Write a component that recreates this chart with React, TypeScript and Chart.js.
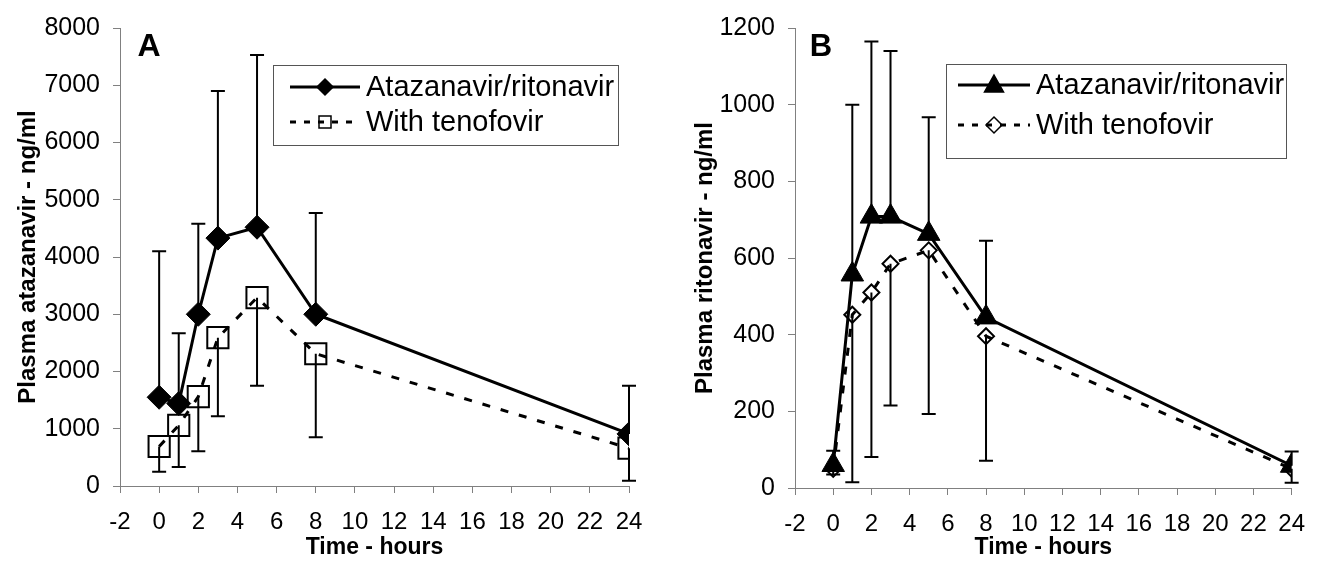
import React, { useEffect, useRef } from "react";
import { Chart, registerables } from "chart.js";

Chart.register(...registerables);

// ---------- data ----------
const timeHours = [0, 1, 2, 3, 5, 8, 24];
const xTickMin = -2;
const xTickMax = 24;

// Panel A: plasma atazanavir (ng/ml)
const atvRtvA = [1550, 1440, 3000, 4330, 4520, 3000, 910];
const atvRtvAUpper = [4100, 2670, 4580, 6900, 7530, 4770, 1750];
const tdfA = [690, 1060, 1560, 2590, 3290, 2310, 660];
const tdfALower = [250, 330, 605, 1220, 1750, 850, 90];

// Panel B: plasma ritonavir (ng/ml)
const atvRtvB = [60, 557, 708, 708, 663, 445, 58];
const atvRtvBUpper = [97, 1000, 1165, 1140, 967, 645, 95];
const tdfB = [50, 452, 510, 585, 620, 396, 50];
const tdfBLower = [35, 15, 81, 215, 193, 71, 14];

const seriesNames = ["Atazanavir/ritonavir", "With tenofovir"];

const FONT = "'Liberation Sans', Arial, Helvetica, sans-serif";

// ---------- plugin: error bars, panel letter, legend ----------
function drawMarker(ctx: CanvasRenderingContext2D, style: string, x: number, y: number, r: number, filled: boolean) {
  ctx.save();
  ctx.beginPath();
  if (style === "rectRot") {
    ctx.moveTo(x, y - r);
    ctx.lineTo(x + r, y);
    ctx.lineTo(x, y + r);
    ctx.lineTo(x - r, y);
  } else if (style === "rect") {
    ctx.rect(x - r, y - r, 2 * r, 2 * r);
  } else if (style === "triangle") {
    ctx.moveTo(x, y - r);
    ctx.lineTo(x + r * 0.95, y + r * 0.7);
    ctx.lineTo(x - r * 0.95, y + r * 0.7);
  }
  ctx.closePath();
  ctx.lineWidth = 1.5;
  ctx.strokeStyle = "#000";
  if (filled) {
    ctx.fillStyle = "#000";
    ctx.fill();
  }
  ctx.stroke();
  ctx.restore();
}

const panelExtras = {
  id: "panelExtras",
  beforeDatasetsDraw(chart: any, _args: any, opts: any) {
    const ctx = chart.ctx as CanvasRenderingContext2D;
    const xs = chart.scales.x;
    const ys = chart.scales.y;
    ctx.save();
    ctx.strokeStyle = "#000";
    ctx.lineWidth = 2;
    (opts.errorBars || []).forEach((eb: any) => {
      eb.values.forEach((v: number, i: number) => {
        const px = xs.getPixelForValue(timeHours[i]);
        const py0 = ys.getPixelForValue(v);
        const py1 = ys.getPixelForValue(eb.ends[i]);
        ctx.beginPath();
        ctx.moveTo(px, py0);
        ctx.lineTo(px, py1);
        ctx.moveTo(px - 7, py1);
        ctx.lineTo(px + 7, py1);
        ctx.stroke();
      });
    });
    ctx.restore();
  },
  afterDraw(chart: any, _args: any, opts: any) {
    const ctx = chart.ctx as CanvasRenderingContext2D;
    ctx.save();
    // panel letter
    ctx.fillStyle = "#000";
    ctx.font = `bold ${opts.letterSize}px ${FONT}`;
    ctx.textAlign = "center";
    ctx.textBaseline = "middle";
    ctx.fillText(opts.letter, opts.letterX, opts.letterY);

    // legend
    const lg = opts.legend;
    ctx.strokeStyle = "#555";
    ctx.lineWidth = 1;
    ctx.strokeRect(lg.left + 0.5, lg.top + 0.5, lg.right - lg.left, lg.bottom - lg.top);
    lg.items.forEach((it: any) => {
      ctx.save();
      ctx.strokeStyle = "#000";
      ctx.lineWidth = 3;
      ctx.setLineDash(it.dash || []);
      ctx.beginPath();
      ctx.moveTo(lg.lineX0, it.y);
      ctx.lineTo(lg.lineX1, it.y);
      ctx.stroke();
      ctx.restore();
      drawMarker(ctx, it.marker, (lg.lineX0 + lg.lineX1) / 2, it.y, it.r, it.filled);
      ctx.fillStyle = "#000";
      ctx.font = `${lg.fontSize}px ${FONT}`;
      ctx.textAlign = "left";
      ctx.textBaseline = "middle";
      ctx.fillText(it.text, lg.textX, it.y + 1);
    });
    ctx.restore();
  },
};

function makeConfig(p: any) {
  const xTickFont = { family: FONT, size: 24 };
  const yTickFont = { family: FONT, size: 25 };
  const titleFont = { family: FONT, size: 23, weight: "bold" as const };
  return {
    type: "line" as const,
    data: {
      datasets: [
        {
          label: seriesNames[0],
          data: timeHours.map((t, i) => ({ x: t, y: p.s1[i] })),
          borderColor: "#000",
          borderWidth: 3,
          pointStyle: p.m1.style,
          pointRadius: p.m1.r,
          pointBackgroundColor: "#000",
          pointBorderColor: "#000",
          pointBorderWidth: 1,
          fill: false,
          tension: 0,
        },
        {
          label: seriesNames[1],
          data: timeHours.map((t, i) => ({ x: t, y: p.s2[i] })),
          borderColor: "#000",
          borderWidth: 3,
          borderDash: [8, 11],
          pointStyle: p.m2.style,
          pointRadius: p.m2.r,
          pointBackgroundColor: "rgba(0,0,0,0)",
          pointBorderColor: "#000",
          pointBorderWidth: 2,
          fill: false,
          tension: 0,
        },
      ],
    },
    options: {
      animation: false as const,
      responsive: false,
      events: [],
      layout: { padding: { left: 0, top: p.top, right: p.right, bottom: 0 } },
      plugins: {
        legend: { display: false },
        tooltip: { enabled: false },
        panelExtras: p.extras,
      },
      scales: {
        x: {
          type: "linear" as const,
          min: xTickMin,
          max: xTickMax,
          ticks: { stepSize: 2, color: "#000", font: xTickFont, padding: 15, callback: (v: any) => String(v) },
          grid: { drawOnChartArea: false, drawTicks: true, tickLength: 7, color: "#808080" },
          border: { display: true, color: "#808080", width: 1 },
          title: { display: true, text: "Time - hours", color: "#000", font: titleFont, padding: { top: 0, bottom: 0 } },
          afterFit: (s: any) => { s.height = p.xHeight; },
        },
        y: {
          type: "linear" as const,
          min: 0,
          max: p.yMax,
          ticks: { stepSize: p.yStep, color: "#000", font: yTickFont, padding: 13, callback: (v: any) => String(v) },
          grid: { drawOnChartArea: false, drawTicks: true, tickLength: 7, color: "#808080" },
          border: { display: true, color: "#808080", width: 1 },
          title: { display: true, text: p.yTitle, color: "#000", font: { family: FONT, size: 24, weight: "bold" as const }, padding: { top: p.yTitlePad, bottom: 0 } },
          afterFit: (s: any) => { s.width = p.yWidth; },
        },
      },
    },
    plugins: [panelExtras],
  };
}

const panelA = {
  s1: atvRtvA,
  s2: tdfA,
  m1: { style: "rectRot", r: 12 },
  m2: { style: "rect", r: 15 },
  top: 26,
  right: 31,
  xHeight: 75,
  yWidth: 120,
  yMax: 8000,
  yStep: 1000,
  yTitle: "Plasma atazanavir - ng/ml",
  yTitlePad: 14,
  extras: {
    errorBars: [
      { values: atvRtvA, ends: atvRtvAUpper },
      { values: tdfA, ends: tdfALower },
    ],
    letter: "A",
    letterX: 149,
    letterY: 47,
    letterSize: 32,
    legend: {
      left: 273, top: 65, right: 618, bottom: 145,
      lineX0: 290, lineX1: 360, textX: 366, fontSize: 29,
      items: [
        { text: seriesNames[0], y: 87, marker: "rectRot", r: 8, filled: true },
        { text: seriesNames[1], y: 122, marker: "rect", r: 6, filled: false, dash: [6, 8] },
      ],
    },
  },
};

const panelB = {
  s1: atvRtvB,
  s2: tdfB,
  m1: { style: "triangle", r: 13 },
  m2: { style: "rectRot", r: 8 },
  top: 25,
  right: 15,
  xHeight: 73,
  yWidth: 135,
  yMax: 1200,
  yStep: 200,
  yTitle: "Plasma ritonavir - ng/ml",
  yTitlePad: 31,
  extras: {
    errorBars: [
      { values: atvRtvB, ends: atvRtvBUpper },
      { values: tdfB, ends: tdfBLower },
    ],
    letter: "B",
    letterX: 161,
    letterY: 47,
    letterSize: 31,
    legend: {
      left: 286, top: 64, right: 626, bottom: 158,
      lineX0: 298, lineX1: 370, textX: 376, fontSize: 29,
      items: [
        { text: seriesNames[0], y: 85, marker: "triangle", r: 10, filled: true },
        { text: seriesNames[1], y: 125, marker: "rectRot", r: 8, filled: false, dash: [6, 8] },
      ],
    },
  },
};

function Panel({ cfg, left }: { cfg: any; left: number }) {
  const ref = useRef<HTMLCanvasElement | null>(null);
  useEffect(() => {
    if (!ref.current) return;
    const chart = new Chart(ref.current, makeConfig(cfg) as any);
    return () => chart.destroy();
  }, [cfg]);
  return (
    <canvas
      ref={ref}
      width={660}
      height={561}
      style={{ position: "absolute", left, top: 0, width: 660, height: 561 }}
    />
  );
}

export default function App() {
  return (
    <div style={{ position: "absolute", left: 0, top: 0, width: 1320, height: 561, background: "#fff" }}>
      <Panel cfg={panelA} left={0} />
      <Panel cfg={panelB} left={660} />
    </div>
  );
}
